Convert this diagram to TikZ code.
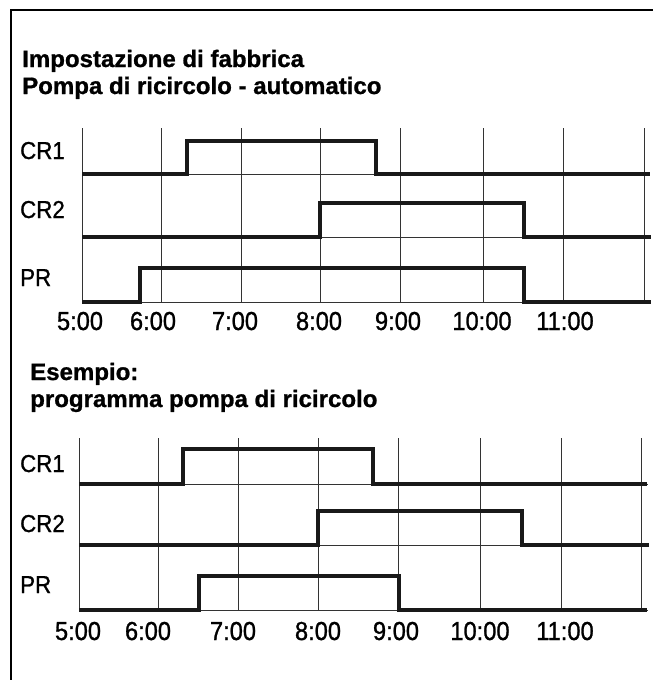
\documentclass[tikz,border=0pt]{standalone}
\usepackage{fontspec}
\setmainfont{Liberation Sans}
\newfontfamily\titlefont{Liberation Sans Bold}[FakeStretch=1.01,FakeBold=1.0]
\newfontfamily\narrowfont{Liberation Sans}[FakeStretch=0.91,FakeBold=1.0]
\begin{document}
\begin{tikzpicture}[x=1pt,y=-1pt,
  frame/.style={line width=1.3pt,black},
  gridline/.style={line width=0.9pt,black!80},
  sig/.style={line width=3.4pt,black!90,line join=miter},
  title/.style={anchor=base west,inner sep=0pt,font=\titlefont\fontsize{23.8}{27}\selectfont},
  chan/.style={anchor=base west,inner sep=0pt,font=\narrowfont\fontsize{24.5}{28}\selectfont},
  tlab/.style={anchor=base,inner sep=0pt,font=\narrowfont\fontsize{26}{30}\selectfont}]
\useasboundingbox (0,0) rectangle (653,680);
\fill[white] (0,0) rectangle (653,680);
% frame
\coordinate (fa) at (11,10);
\coordinate (fb) at (653,10);
\coordinate (fc) at (11,680);
\draw[frame] (fb) -- (fa) -- (fc);
% ---------- chart 1 ----------
\node[title] (t1a) at (22,67) {Impostazione di fabbrica};
\node[title] (t1b) at (22,94) {Pompa di ricircolo - automatico};
\foreach \x in {82,161,241,320,400,483,563,644} \draw[gridline] (\x,128) -- (\x,302);
\foreach \y in {174,237,302} \draw[gridline] (82,\y) -- (650,\y);
\draw[sig] (82,174) -- (187,174) -- (187,141) -- (376,141) -- (376,174) -- (650,174);
\draw[sig] (82,237) -- (320,237) -- (320,203) -- (524,203) -- (524,237) -- (651,237);
\draw[sig] (82,302) -- (140,302) -- (140,268) -- (524,268) -- (524,302) -- (651,302);
\node[chan] (c1a) at (20,159) {CR1};
\node[chan] (c1b) at (20,218) {CR2};
\node[chan] (c1c) at (20,286) {PR};
\node[tlab] (h1a) at (80,330) {5:00};
\node[tlab] (h1b) at (153,330) {6:00};
\node[tlab] (h1c) at (235,330) {7:00};
\node[tlab] (h1d) at (319,330) {8:00};
\node[tlab] (h1e) at (398,330) {9:00};
\node[tlab] (h1f) at (482,330) {10:00};
\node[tlab] (h1g) at (565,330) {11:00};
% ---------- chart 2 ----------
\node[title] (t2a) at (30,380) {Esempio:};
\node[title] (t2b) at (30,407) {programma pompa di ricircolo};
\foreach \x in {79,158,238,318,398,480,561,641} \draw[gridline] (\x,438) -- (\x,610);
\foreach \y in {484,545,610} \draw[gridline] (79,\y) -- (648,\y);
\draw[sig] (79,484) -- (183,484) -- (183,449) -- (373,449) -- (373,484) -- (647,484);
\draw[sig] (79,545) -- (318,545) -- (318,511) -- (522,511) -- (522,545) -- (649,545);
\draw[sig] (79,610) -- (199,610) -- (199,576) -- (399,576) -- (399,610) -- (647,610);
\node[chan] (c2a) at (20,472) {CR1};
\node[chan] (c2b) at (20,532) {CR2};
\node[chan] (c2c) at (20,593) {PR};
\node[tlab] (h2a) at (78,640) {5:00};
\node[tlab] (h2b) at (148,640) {6:00};
\node[tlab] (h2c) at (233,640) {7:00};
\node[tlab] (h2d) at (318,640) {8:00};
\node[tlab] (h2e) at (396,640) {9:00};
\node[tlab] (h2f) at (480,640) {10:00};
\node[tlab] (h2g) at (565,640) {11:00};
\end{tikzpicture}
\end{document}
